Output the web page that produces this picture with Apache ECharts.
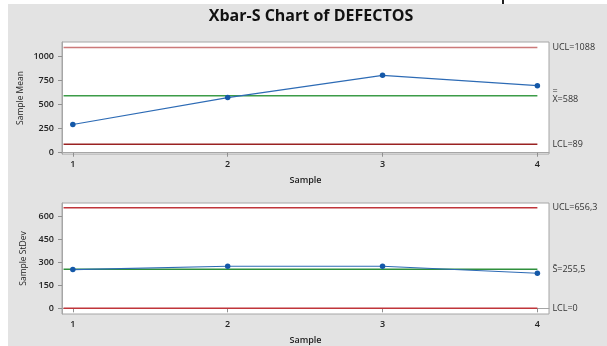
<!DOCTYPE html>
<html><head><meta charset="utf-8">
<script src="https://cdn.jsdelivr.net/npm/echarts@6/dist/echarts.min.js"></script>
<style>html,body{margin:0;padding:0;background:#fff}#c{width:607px;height:346px}</style>
</head><body><div id="c"></div>
<script>
// Data
const samples = [1, 2, 3, 4];
const sampleMeans = [292, 570, 800, 693];
const sampleStDevs = [253, 275, 275, 229];
const meanLimits = { UCL: 1088, CL: 588, LCL: 89 };
const sdLimits = { UCL: 656.3, CL: 255.5, LCL: 0 };
const meanTicks = [0, 250, 500, 750, 1000];
const sdTicks = [0, 150, 300, 450, 600];
const meanLabels = ['UCL=1088', '=\nX=588', 'LCL=89'];
const sdLabels = ['UCL=656,3', 'S\u0304=255,5', 'LCL=0'];

const FONT = '"Open Sans", "DejaVu Sans", sans-serif';
const XMIN = 0.93, XMAX = 4.075, LINE_START = 0.94;

function xAxis(gi) {
  return {
    type: 'value', gridIndex: gi, min: XMIN, max: XMAX,
    name: 'Sample', nameLocation: 'middle', nameGap: 22, nameMoveOverlap: false,
    nameTextStyle: { fontFamily: FONT, fontSize: 9, fontWeight: 600, color: '#222' },
    axisLine: { show: true, lineStyle: { color: '#a6a6a6' } },
    axisTick: { show: true, length: 4, customValues: samples, lineStyle: { color: '#909090' } },
    axisLabel: { customValues: samples, margin: 6, fontFamily: FONT, fontSize: 9, fontWeight: 600, color: '#222', formatter: v => String(v) },
    splitLine: { show: false }
  };
}
function yAxis(gi, min, max, ticks, name, gap) {
  return {
    type: 'value', gridIndex: gi, min: min, max: max,
    name: name, nameLocation: 'middle', nameGap: gap, nameRotate: 90, nameMoveOverlap: false,
    nameTextStyle: { fontFamily: FONT, fontSize: 8.5, color: '#222' },
    axisLine: { show: true, lineStyle: { color: '#a6a6a6' } },
    axisTick: { show: true, length: 4, customValues: ticks, lineStyle: { color: '#909090' } },
    axisLabel: { customValues: ticks, margin: 8, fontFamily: FONT, fontSize: 9, fontWeight: 600, color: '#222', formatter: v => String(v) },
    splitLine: { show: false }
  };
}
function limitLine(gi, v, color, label, width) {
  return {
    type: 'line', xAxisIndex: gi, yAxisIndex: gi,
    data: [[LINE_START, v], [samples[samples.length - 1], v]],
    symbol: 'none', silent: true,
    lineStyle: { color: color, width: width || 1.5 },
    endLabel: { show: true, formatter: label, distance: 15, fontFamily: FONT, fontSize: 9, color: '#333', lineHeight: 8, align: 'left', verticalAlign: 'middle' },
    z: 2
  };
}
function dataLine(gi, vals) {
  return {
    type: 'line', xAxisIndex: gi, yAxisIndex: gi,
    data: samples.map((s, i) => [s, vals[i]]),
    symbol: 'circle', symbolSize: 5.5,
    itemStyle: { color: '#1458a8' },
    lineStyle: { color: '#2d6bb5', width: 1.2 },
    z: 5
  };
}

const chart = echarts.init(document.getElementById('c'), null, { renderer: 'canvas' });
chart.setOption({
  animation: false,
  backgroundColor: '#ffffff',
  graphic: [
    { type: 'rect', z: -100, silent: true, shape: { x: 8, y: 4, width: 599, height: 342 }, style: { fill: '#e3e3e3' } },
    { type: 'rect', z: -99, silent: true, shape: { x: 502, y: 0, width: 2, height: 4 }, style: { fill: '#222' } }
  ],
  title: {
    text: 'Xbar-S Chart of DEFECTOS', left: 311, top: 8, textAlign: 'center', padding: 0,
    textStyle: { fontFamily: FONT, fontSize: 16, fontWeight: 'bold', color: '#111' }
  },
  grid: [
    { left: 62, top: 42, width: 487, height: 112, show: true, backgroundColor: '#fff', borderColor: '#a6a6a6', borderWidth: 1 },
    { left: 62, top: 203, width: 487, height: 111, show: true, backgroundColor: '#fff', borderColor: '#a6a6a6', borderWidth: 1 }
  ],
  xAxis: [xAxis(0), xAxis(1)],
  yAxis: [
    yAxis(0, -13, 1144, meanTicks, 'Sample Mean', 37),
    yAxis(1, -37, 688, sdTicks, 'Sample StDev', 34)
  ],
  series: [
    limitLine(0, meanLimits.UCL, '#cc7a7a', meanLabels[0]),
    limitLine(0, meanLimits.CL, '#3c9c48', meanLabels[1]),
    limitLine(0, meanLimits.LCL, '#9a2222', meanLabels[2]),
    dataLine(0, sampleMeans),
    limitLine(1, sdLimits.UCL, '#c0353a', sdLabels[0]),
    limitLine(1, sdLimits.CL, '#2f8f3c', sdLabels[1]),
    limitLine(1, sdLimits.LCL, '#c0353a', sdLabels[2]),
    dataLine(1, sampleStDevs)
  ]
});
</script></body></html>
